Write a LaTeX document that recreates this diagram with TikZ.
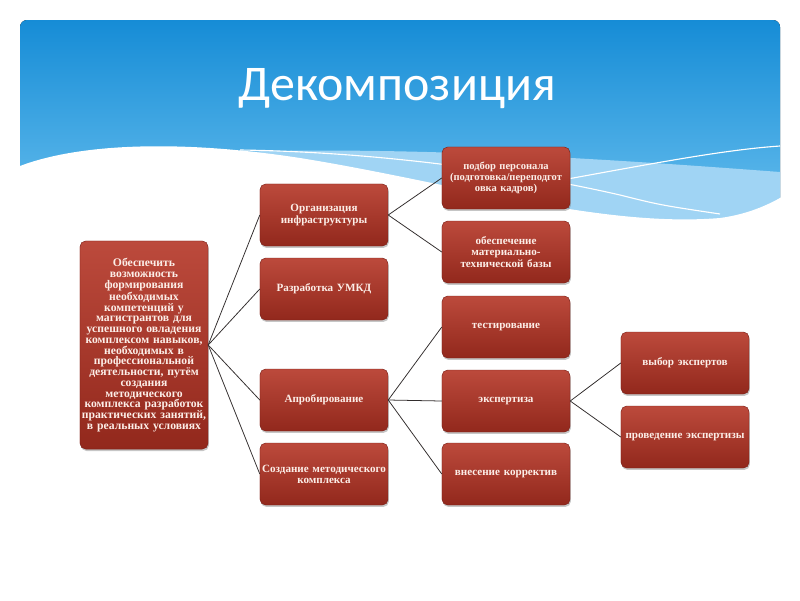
\documentclass[tikz,border=0pt]{standalone}
\usepackage{fontspec}
\setmainfont{Liberation Serif}
\newfontfamily\titlefont{Carlito}
\usetikzlibrary{shadows}

\definecolor{skytop}{RGB}{22,140,214}
\definecolor{skybot}{RGB}{110,195,240}
\definecolor{skylight}{RGB}{160,212,244}
\definecolor{boxtop}{RGB}{188,74,60}
\definecolor{boxbot}{RGB}{146,40,28}
\definecolor{boxedge}{RGB}{120,30,22}
\definecolor{boxtext}{RGB}{252,238,232}
\definecolor{link}{RGB}{50,45,45}

\tikzset{
  box/.style={rectangle, rounded corners=4pt, top color=boxtop, bottom color=boxbot,
    draw=boxedge, line width=0.3pt, text=boxtext, font=\bfseries\fontsize{7.9}{8}\selectfont,
    minimum width=3.2cm, minimum height=1.55cm, text width=3.1cm, align=center, inner sep=0pt,
    drop shadow={shadow xshift=0.6pt, shadow yshift=-1.4pt, opacity=0.45}},
  rootbox/.style={box, minimum height=5.2cm, text width=3.3cm, inner xsep=-0.05cm,
    font=\bfseries\fontsize{8.3}{7.65}\selectfont},
  link/.style={draw=link, line width=0.55pt}
}

\begin{document}
\begin{tikzpicture}[x=0.025cm, y=-0.025cm]
  \useasboundingbox (0,0) rectangle (800,600);

  % header
  \fill[top color=skytop, bottom color=skybot, rounded corners=5pt] (20,20) rectangle (780,240);
  \fill[skylight] (230,152) .. controls (420,146) and (620,160) .. (780,172) -- (780,240) -- (230,240) -- cycle;
  \fill[white] (15,168) .. controls (70,145) and (170,138) .. (300,158)
    .. controls (450,182) and (600,228) .. (720,218)
    .. controls (750,214) and (772,203) .. (785,195) -- (785,245) -- (15,245) -- cycle;
  \draw[white, line width=0.8pt] (240,150) .. controls (380,152) and (520,172) .. (620,195)
    .. controls (660,205) .. (720,214);
  \draw[white, line width=0.8pt] (540,184) .. controls (640,166) and (720,150) .. (780,146);
  \node[text=white, font=\titlefont\fontsize{35.5}{36}\selectfont] (title) at (397,89) {Декомпозиция};

  % boxes
  \node[rootbox] (goal) at (144,345) {Обеспечить\\возможность\\формирования\\необходимых\\компетенций у\\магистрантов для\\успешного овладения\\комплексом навыков,\\необходимых в\\профессиональной\\деятельности, путём\\создания\\методического\\комплекса разработок\\практических занятий,\\в реальных условиях};

  \node[box] (infra) at (324,215) {Организация\\инфраструктуры};
  \node[box] (umkd)  at (324,289) {Разработка УМКД};
  \node[box] (aprob) at (324,400) {Апробирование};
  \node[box] (metod) at (324,474) {Создание методического комплекса};

  \node[box, font=\bfseries\fontsize{7.5}{7.7}\selectfont] (staff) at (506,178) {подбор персонала (подготовка/переподгот овка кадров)};
  \node[box] (mtb)   at (506,252) {обеспечение\\материально-\\технической базы};
  \node[box] (test)  at (506,327) {тестирование};
  \node[box] (expert) at (506,401) {экспертиза};
  \node[box] (korr)  at (506,474) {внесение корректив};

  \node[box] (choice) at (685,363) {выбор экспертов};
  \node[box] (review) at (685,437) {проведение экспертизы};

  % links
  \foreach \n in {infra,umkd,aprob,metod}
    \draw[link] (goal.east) -- (\n.west);
  \foreach \n in {staff,mtb}
    \draw[link] (infra.east) -- (\n.west);
  \foreach \n in {test,expert,korr}
    \draw[link] (aprob.east) -- (\n.west);
  \foreach \n in {choice,review}
    \draw[link] (expert.east) -- (\n.west);
\end{tikzpicture}
\end{document}
